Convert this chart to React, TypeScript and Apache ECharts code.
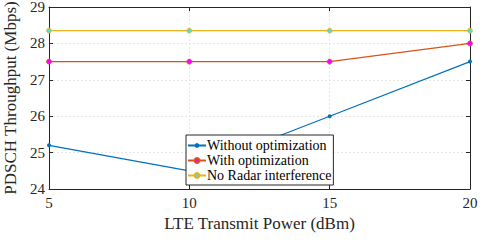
import React, { useEffect, useRef } from "react";
import * as echarts from "echarts";

const xValues = [5, 10, 15, 20];
const withoutOpt = [25.2, 24.5, 26.0, 27.5];
const withOpt = [27.5, 27.5, 27.5, 28.0];
const noRadar = [28.35, 28.35, 28.35, 28.35];
const seriesNames = ["Without optimization", "With optimization", "No Radar interference"];

export default function App() {
  const ref = useRef<HTMLDivElement>(null);
  useEffect(() => {
    if (!ref.current) return;
    const chart = echarts.init(ref.current, undefined, { renderer: "svg" });
    const font = "'Liberation Serif', 'Times New Roman', serif";
    const axisLine = { show: true, lineStyle: { color: "#262626", width: 1 } };
    const tick = { show: true, inside: true, length: 4, lineStyle: { color: "#262626" } };
    const toPairs = (arr: number[]) => arr.map((v, i) => [xValues[i], v]);
    chart.setOption({
      animation: false,
      backgroundColor: "#fff",
      textStyle: { fontFamily: font },
      grid: { left: 49, right: 21, top: 7, bottom: 56, outerBoundsMode: "none", containLabel: false },
      legend: {
        orient: "vertical",
        left: 186,
        top: 135,
        padding: [3, 2, 2, 1],
        itemGap: 0,
        itemWidth: 18,
        itemHeight: 6,
        borderColor: "#262626",
        borderWidth: 1,
        backgroundColor: "#fff",
        textStyle: { fontFamily: font, fontSize: 14, color: "#000", padding: [0, 0, 0, -4], lineHeight: 15 },
        data: seriesNames,
      },
      xAxis: [
        {
          type: "value",
          min: 5,
          max: 20,
          interval: 5,
          name: "LTE Transmit Power (dBm)",
          nameLocation: "middle",
          nameGap: 26,
          nameTextStyle: { fontFamily: font, fontSize: 17, color: "#262626" },
          axisLine,
          axisTick: tick,
          axisLabel: { fontFamily: font, fontSize: 15, color: "#262626", margin: 6 },
          splitLine: { show: true, lineStyle: { color: "#e6e6e6", type: [2, 2] } },
        },
        {
          type: "value",
          position: "top",
          min: 5,
          max: 20,
          interval: 5,
          axisLine,
          axisTick: tick,
          axisLabel: { show: false },
          splitLine: { show: false },
        },
      ],
      yAxis: [
        {
          type: "value",
          min: 24,
          max: 29,
          interval: 1,
          name: "PDSCH Throughput (Mbps)",
          nameLocation: "middle",
          nameGap: 26,
          nameTextStyle: { fontFamily: font, fontSize: 17, color: "#262626" },
          axisLine,
          axisTick: tick,
          axisLabel: { fontFamily: font, fontSize: 15, color: "#262626", margin: 4 },
          splitLine: { show: true, lineStyle: { color: "#e6e6e6", type: [2, 2] } },
        },
        {
          type: "value",
          position: "right",
          min: 24,
          max: 29,
          interval: 1,
          axisLine,
          axisTick: tick,
          axisLabel: { show: false },
          splitLine: { show: false },
        },
      ],
      series: [
        {
          name: seriesNames[0],
          type: "line",
          data: toPairs(withoutOpt),
          symbol: "circle",
          symbolSize: 4,
          lineStyle: { color: "#0072BD", width: 1.2 },
          itemStyle: { color: "#0072BD" },
          z: 3,
        },
        {
          name: seriesNames[1],
          type: "line",
          data: toPairs(withOpt),
          symbol: "circle",
          symbolSize: 5,
          lineStyle: { color: "#D95319", width: 1.2 },
          itemStyle: { color: "#FF00FF", borderColor: "#D95319", borderWidth: 0.8 },
          z: 3,
        },
        {
          name: seriesNames[2],
          type: "line",
          data: toPairs(noRadar),
          symbol: "circle",
          symbolSize: 5,
          lineStyle: { color: "#EDB120", width: 1.2 },
          itemStyle: { color: "#4DE0D0", borderColor: "#EDB120", borderWidth: 0.8 },
          z: 3,
        },
      ],
    });
    return () => chart.dispose();
  }, []);
  return <div ref={ref} style={{ width: 491, height: 245, position: "absolute", left: 0, top: 0 }} />;
}
